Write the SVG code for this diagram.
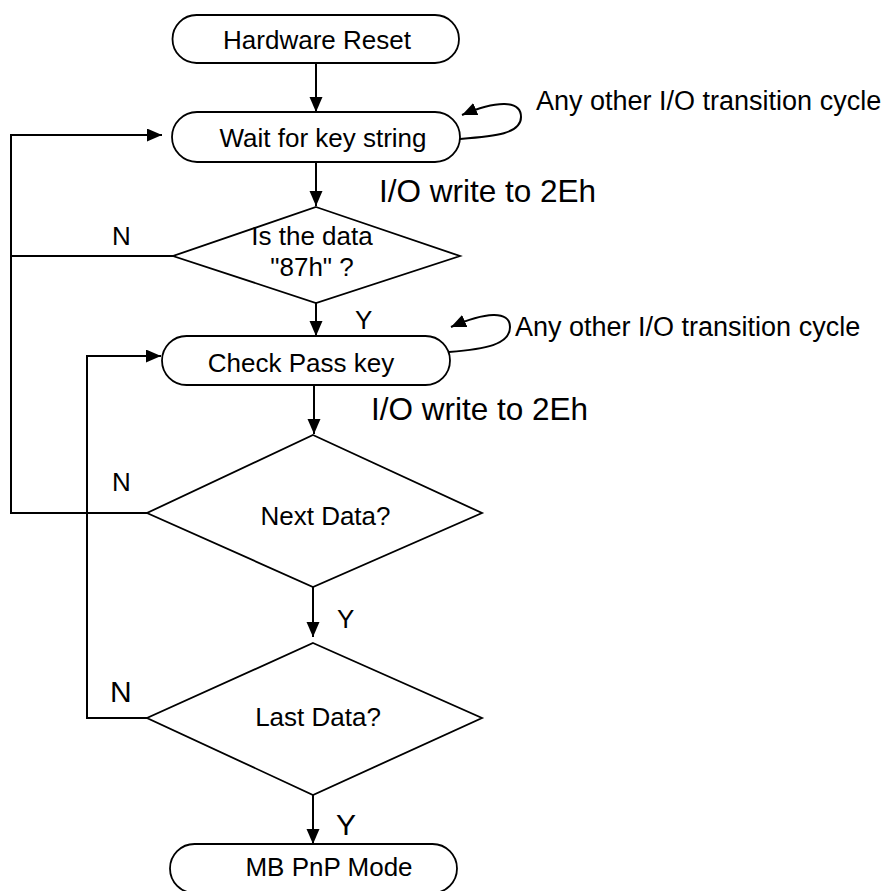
<svg xmlns="http://www.w3.org/2000/svg" width="891" height="891" viewBox="0 0 891 891">
<defs>
<marker id="ah" markerUnits="userSpaceOnUse" markerWidth="16" markerHeight="14" refX="15" refY="6.5" orient="auto"><path d="M0,0 L15,6.5 L0,13 Z" fill="#000"/></marker>
<style>
.sh{fill:#fff;stroke:#000;stroke-width:1.8}
.cn{fill:none;stroke:#000;stroke-width:2}
.ar{marker-end:url(#ah)}
text{font-family:"Liberation Sans",Arial,sans-serif;fill:#000}
.t{font-size:26px;text-anchor:middle}
.lb{font-size:26px}
.big{font-size:31.5px}
.nt{font-size:27px}
</style>
</defs>
<rect width="891" height="891" fill="#fff"/>
<g id="connectors">
<path class="cn ar" d="M316,63 V112"/>
<path class="cn ar" d="M316,162 V206"/>
<path class="cn ar" d="M316,303 V336"/>
<path class="cn ar" d="M314,385 V434"/>
<path class="cn ar" d="M313,587 V637"/>
<path class="cn ar" d="M313,795 V844"/>
<path class="cn" d="M173,256 H11"/>
<path class="cn ar" d="M147,513 H11 V135 H162"/>
<path class="cn ar" d="M147,718 H87 V356 H161"/>
<path class="cn ar" d="M459,139 C495,136 521,134 521,117 C521,100 497,100 462,115"/>
<path class="cn ar" d="M449,352 C485,349 510,345 510,327 C510,310 485,312 451,327"/>
</g>
<g id="hardware-reset">
<rect class="sh" x="172.5" y="15" width="286.5" height="48" rx="24"/>
<text class="t" x="317" y="49">Hardware Reset</text>
</g>
<g id="wait-key">
<rect class="sh" x="172" y="112" width="288" height="50" rx="25"/>
<text class="t" x="323" y="147">Wait for key string</text>
</g>
<g id="is-87h">
<polygon class="sh" points="316,207 460,256 316,303 173,256"/>
<text class="t" x="312" y="245">Is the data</text>
<text class="t" x="312" y="276">"87h" ?</text>
</g>
<g id="check-pass">
<rect class="sh" x="162" y="336" width="288" height="49" rx="24.5"/>
<text class="t" x="301" y="372">Check Pass key</text>
</g>
<g id="next-data">
<polygon class="sh" points="313,435 482,513 313,587 147,513"/>
<text class="t" x="325.5" y="525">Next Data?</text>
</g>
<g id="last-data">
<polygon class="sh" points="313,643 482,718 313,795 147,718"/>
<text class="t" x="318" y="726">Last Data?</text>
</g>
<g id="mb-pnp">
<rect class="sh" x="170" y="844" width="287" height="49" rx="24.5"/>
<text class="t" x="329" y="876">MB PnP Mode</text>
</g>
<g id="labels">
<text class="nt" x="536" y="110">Any other I/O transition cycle</text>
<text class="big" x="379" y="202">I/O write to 2Eh</text>
<text class="lb" x="112" y="245">N</text>
<text class="lb" x="355" y="329">Y</text>
<text class="nt" x="515" y="336">Any other I/O transition cycle</text>
<text class="big" x="371" y="420">I/O write to 2Eh</text>
<text class="lb" x="112" y="491">N</text>
<text class="lb" x="337" y="628">Y</text>
<text class="lb" x="110" y="702" style="font-size:30px">N</text>
<text class="lb" x="336" y="835" style="font-size:30px">Y</text>
</g>
</svg>
